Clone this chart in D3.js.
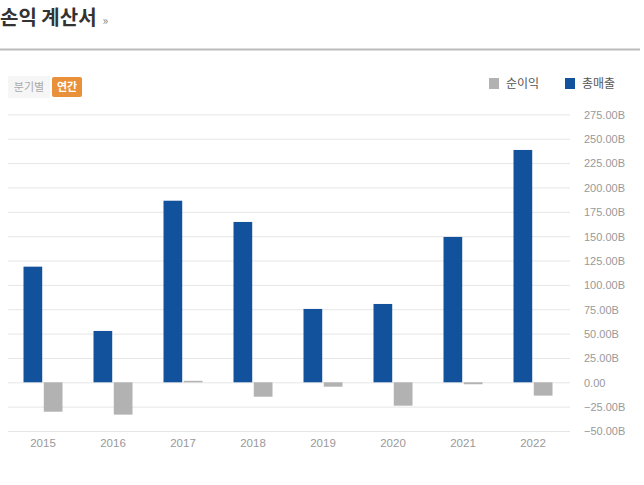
<!DOCTYPE html>
<html>
<head>
<meta charset="utf-8">
<script src="https://cdn.jsdelivr.net/npm/d3@7"></script>
<style>
  body { margin: 0; background: #fff; font-family: "Noto Sans CJK KR", "Noto Sans", sans-serif; }
</style>
</head>
<body>
<svg id="chart" width="644" height="485"></svg>
<script>
// data (billions)
const years = ["2015", "2016", "2017", "2018", "2019", "2020", "2021", "2022"];
const seriesNames = ["총매출", "순이익"];
const revenue = [118.7, 52.7, 186.4, 164.6, 75.3, 80.4, 149.2, 238.5];
const netIncome = [-30.2, -33.2, 1.5, -14.8, -4.5, -24, -2, -13.7];
const yTicks = [-50, -25, 0, 25, 50, 75, 100, 125, 150, 175, 200, 225, 250, 275];
const colors = { "총매출": "#12529c", "순이익": "#b2b2b2" };

const svg = d3.select("#chart");

// header
const title = svg.append("text")
  .attr("x", 0).attr("y", 25)
  .style("font-size", "20px").style("font-weight", "bold").style("fill", "#333")
  .text("손익 계산서");
title.append("tspan")
  .attr("dx", 6)
  .style("font-size", "12px").style("font-weight", "normal").style("fill", "#888")
  .text("»");

svg.append("line")
  .attr("x1", 0).attr("x2", 640).attr("y1", 49.5).attr("y2", 49.5)
  .attr("stroke", "#bbb").attr("stroke-width", 2);

// toggle buttons
svg.append("rect").attr("x", 8).attr("y", 76).attr("width", 42).attr("height", 22).attr("fill", "#f6f6f6");
svg.append("text").attr("x", 29).attr("y", 91).attr("text-anchor", "middle")
  .style("font-size", "11px").style("fill", "#aaa").text("분기별");
svg.append("rect").attr("x", 52).attr("y", 77).attr("width", 30).attr("height", 20).attr("rx", 2).attr("fill", "#e8913a");
svg.append("text").attr("x", 67).attr("y", 91).attr("text-anchor", "middle")
  .style("font-size", "11px").style("font-weight", "bold").style("fill", "#fff").text("연간");

// legend
const legendItems = [["순이익", 489], ["총매출", 565]];
legendItems.forEach(([name, lx]) => {
  svg.append("rect").attr("x", lx).attr("y", 78).attr("width", 10).attr("height", 11).attr("fill", colors[name]);
  svg.append("text").attr("x", lx + 17).attr("y", 88)
    .style("font-size", "12px").style("fill", "#555").text(name);
});

// scales
const x = d3.scaleBand().domain(years).range([8, 568]);
const xs = d3.scaleBand().domain(seriesNames).range([0, 39]).paddingInner(0.077);
const y = d3.scaleLinear().domain([-50, 275]).range([431, 114.4]);

// grid
svg.append("g")
  .attr("transform", "translate(570,0)")
  .call(d3.axisLeft(y).tickValues(yTicks).tickSize(562).tickFormat(""))
  .call(g => g.select(".domain").remove())
  .call(g => g.selectAll("line").attr("stroke", "#e6e6e6"));

// y labels on the right
svg.append("g")
  .attr("transform", "translate(584,0)")
  .call(d3.axisRight(y).tickValues(yTicks).tickSize(0)
    .tickFormat(d => d === 0 ? "0.00" : d3.format(".2f")(d) + "B"))
  .call(g => g.select(".domain").remove())
  .call(g => g.selectAll("text").attr("x", 0).attr("dy", "0.35em")
    .style("font-size", "11px").style("fill", "#999")
    .style("font-family", "'Liberation Sans', Arial, sans-serif"));

// x labels
svg.append("g")
  .attr("transform", "translate(0,431)")
  .call(d3.axisBottom(x).tickSize(0).tickPadding(8))
  .call(g => g.select(".domain").remove())
  .call(g => g.selectAll("text")
    .style("font-size", "11.5px").style("fill", "#999")
    .style("font-family", "'Liberation Sans', Arial, sans-serif"));

// bars
const groupOffset = (x.bandwidth() - 39) / 2;
const rows = years.map((yr, i) => ({ year: yr, values: [
  { key: "총매출", v: revenue[i] },
  { key: "순이익", v: netIncome[i] }
]}));

svg.append("g").selectAll("g")
  .data(rows)
  .join("g")
  .attr("transform", d => `translate(${x(d.year) + groupOffset},0)`)
  .selectAll("rect")
  .data(d => d.values)
  .join("rect")
  .attr("x", d => xs(d.key))
  .attr("width", xs.bandwidth())
  .attr("y", d => y(Math.max(0, d.v)))
  .attr("height", d => Math.abs(y(d.v) - y(0)))
  .attr("fill", d => colors[d.key]);
</script>
</body>
</html>
